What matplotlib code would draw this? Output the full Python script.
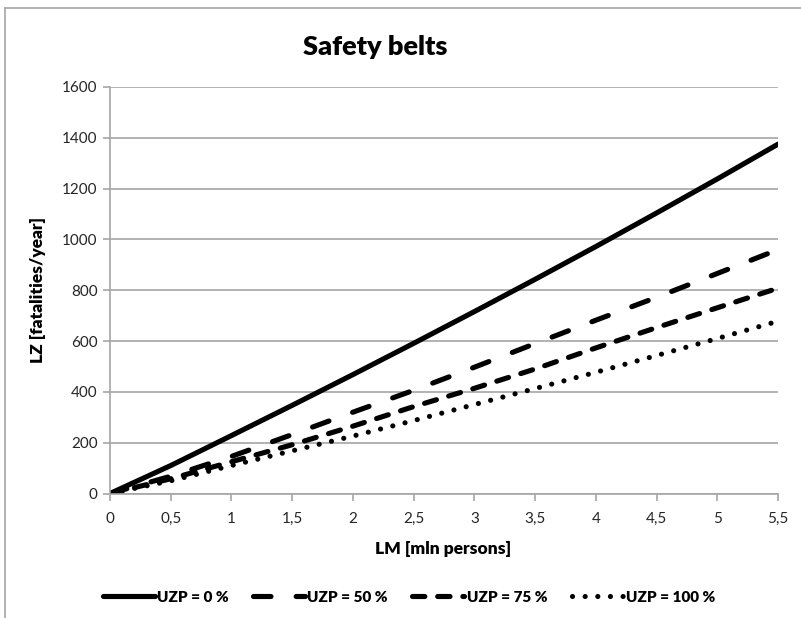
import matplotlib
matplotlib.use("Agg")
import matplotlib.pyplot as plt
from matplotlib.lines import Line2D
from matplotlib.ticker import FuncFormatter

# ---- data ----
lm = [0, 0.5, 1, 1.5, 2, 2.5, 3, 3.5, 4, 4.5, 5, 5.5]
uzp_0 = [0, 110, 228, 347, 468, 591, 716, 843, 972, 1104, 1238, 1375]
uzp_50 = [0, 68, 146, 232, 320, 406, 497, 590, 682, 772, 866, 960]
uzp_75 = [0, 58, 125, 192, 265, 342, 414, 490, 573, 653, 731, 808]
uzp_100 = [0, 50, 110, 168, 226, 287, 350, 413, 477, 543, 610, 678]
series_labels = ["UZP = 0 %", "UZP = 50 %", "UZP = 75 %", "UZP = 100 %"]
title = "Safety belts"
xlabel = "LM [mln persons]"
ylabel = "LZ [fatalities/year]"

FONT = "Lato"
plt.rcParams["font.family"] = [FONT, "DejaVu Sans"]

fig = plt.figure(figsize=(8.01, 6.18), dpi=100)
ax = fig.add_axes([110 / 801, 1 - 493.5 / 618, (778 - 110) / 801, (493.5 - 87) / 618])

lw = 3.7
styles = [
    dict(linestyle="-", solid_capstyle="round"),
    dict(linestyle=(0, (3.4, 4.9)), dash_capstyle="round"),
    dict(linestyle=(0, (2.4, 2.5)), dash_capstyle="round"),
    dict(linestyle=(0, (0.01, 2.45)), dash_capstyle="round"),
]
handles = []
for ys, lab, st in zip([uzp_0, uzp_50, uzp_75, uzp_100], series_labels, styles):
    (h,) = ax.plot(lm, ys, color="black", lw=lw, label=lab, **st)
    handles.append(h)

ax.set_xlim(0, 5.5)
ax.set_ylim(0, 1600)
ax.set_xticks(lm)
ax.set_yticks(range(0, 1601, 200))
ax.xaxis.set_major_formatter(FuncFormatter(lambda v, p: (f"{v:g}").replace(".", ",")))
ax.yaxis.grid(True, color="#a6a6a6", lw=1.2)
ax.set_axisbelow(True)
for s in ["top", "right"]:
    ax.spines[s].set_visible(False)
for s in ["left", "bottom"]:
    ax.spines[s].set_color("#a6a6a6")
    ax.spines[s].set_linewidth(1.2)
ax.tick_params(axis="both", colors="#a6a6a6", length=5, width=1.2, labelsize=11,
               labelcolor="#262626")
ax.tick_params(axis="x", pad=8)
ax.tick_params(axis="y", pad=4)

fig.text(375 / 801, 1 - 47 / 618, title, ha="center", va="center",
         fontsize=19.5, fontweight="heavy", color="black")
fig.text(443 / 801, 1 - 549 / 618, xlabel, ha="center", va="center",
         fontsize=12.5, fontweight="heavy", color="black")
fig.text(38 / 801, 1 - 290 / 618, ylabel, ha="center", va="center", rotation=90,
         fontsize=12.5, fontweight="heavy", color="black")

leg = fig.legend(handles=handles, labels=series_labels, loc="center",
                 bbox_to_anchor=(409 / 801, 1 - 597 / 618), ncol=4, frameon=False,
                 handlelength=3.4, handletextpad=0.15, columnspacing=1.6,
                 prop={"family": [FONT], "weight": "heavy", "size": 11})

# chart-area border (only left and top visible in the crop)
fig.add_artist(Line2D([5 / 801, 5 / 801], [0, 1 - 8 / 618], transform=fig.transFigure,
                      color="#a6a6a6", lw=1.2))
fig.add_artist(Line2D([5 / 801, 1], [1 - 8 / 618, 1 - 8 / 618], transform=fig.transFigure,
                      color="#a6a6a6", lw=1.2))

fig.savefig("out.png", dpi=100)
